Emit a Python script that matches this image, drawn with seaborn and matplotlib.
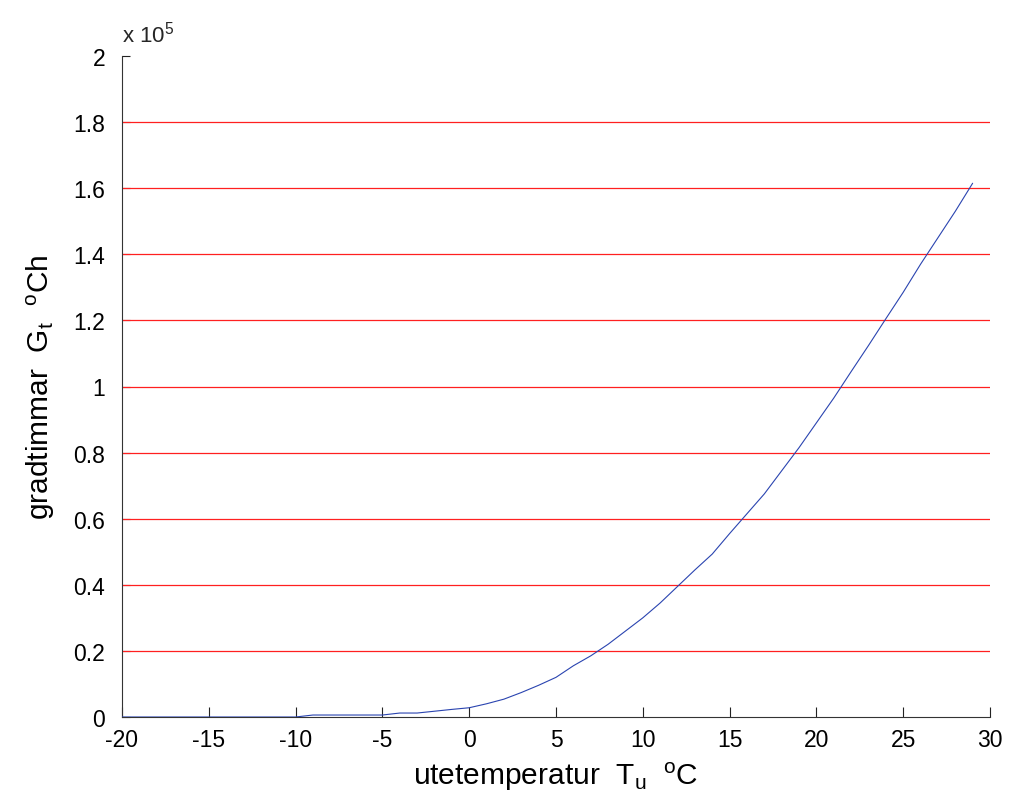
import matplotlib
matplotlib.use("Agg")
import matplotlib.pyplot as plt
import seaborn as sns
import pandas as pd
from matplotlib.ticker import FixedLocator, FuncFormatter

# ---- data ----
temperature = list(range(-20, 30))
degree_hours = [0, 0, 0, 0, 0, 0, 0, 0, 0, 0, 0,          # -20 .. -10
                600, 600, 600, 600, 600,                   # -9 .. -5
                1200, 1200,                                # -4 .. -3
                1750, 2300, 2800,                          # -2 .. 0
                4000, 5400, 7400, 9600, 12000,             # 1 .. 5
                15500, 18500, 22000, 26000, 30000, 34500,  # 6 .. 11
                39500, 44500, 49300,                       # 12 .. 14
                55500, 61500, 67500,                       # 15 .. 17
                74500, 81500, 89000,                       # 18 .. 20
                96500, 104500, 112400,                     # 21 .. 23
                120500, 128500, 137000, 145000, 153000, 161500]  # 24 .. 29
x_ticks = [-20, -15, -10, -5, 0, 5, 10, 15, 20, 25, 30]
y_ticks = [0, 20000, 40000, 60000, 80000, 100000, 120000, 140000, 160000, 180000, 200000]
grid_levels = [20000, 40000, 60000, 80000, 100000, 120000, 140000, 160000, 180000]

df = pd.DataFrame({"T": temperature, "G": degree_hours})

sns.set_theme(style="white")
plt.rcParams["font.family"] = ["Liberation Sans", "DejaVu Sans"]
plt.rcParams["mathtext.fontset"] = "custom"
plt.rcParams["mathtext.rm"] = "Liberation Sans"
plt.rcParams["mathtext.it"] = "Liberation Sans:italic"
plt.rcParams["axes.unicode_minus"] = False

fig = plt.figure(figsize=(10.09, 8.12), dpi=100)
ax = fig.add_axes([122 / 1009, 94 / 812, 868 / 1009, 661 / 812])

for g in grid_levels:
    ax.axhline(g, color="#ff2020", lw=0.9, zorder=1)

sns.lineplot(data=df, x="T", y="G", ax=ax, color="#2a44b0", lw=0.8, zorder=3)

ax.set_xlim(-20, 30)
ax.set_ylim(0, 200000)
ax.xaxis.set_major_locator(FixedLocator(x_ticks))
ax.yaxis.set_major_locator(FixedLocator(y_ticks))
ax.yaxis.set_major_formatter(FuncFormatter(lambda v, p: "%g" % (v / 1e5)))

for s in ["top", "right"]:
    ax.spines[s].set_visible(False)
for s in ["left", "bottom"]:
    ax.spines[s].set_color("#333333")
    ax.spines[s].set_linewidth(0.8)

ax.tick_params(axis="x", direction="in", length=7.2, width=0.8, color="#222222",
               labelsize=16.5, pad=8, bottom=True)
ax.tick_params(axis="y", direction="in", length=5.8, width=0.8, color="#222222",
               labelsize=16.5, pad=12, left=True)

ax.set_xlabel(r"utetemperatur  T$_{\mathrm{u}}$  $^{\mathrm{o}}$C", fontsize=21.5, labelpad=6)
ax.set_ylabel(r"gradtimmar  G$_{\mathrm{t}}$  $^{\mathrm{o}}$Ch", fontsize=21.5, labelpad=12)

ax.text(0.0, 1.015, r"x 10$^{5}$", transform=ax.transAxes, fontsize=16,
        ha="left", va="bottom")
ax.xaxis.label.set_color("black")
ax.yaxis.label.set_color("black")
for lbl in ax.get_xticklabels() + ax.get_yticklabels():
    lbl.set_color("black")

fig.savefig("out.png", dpi=100, facecolor="white")
